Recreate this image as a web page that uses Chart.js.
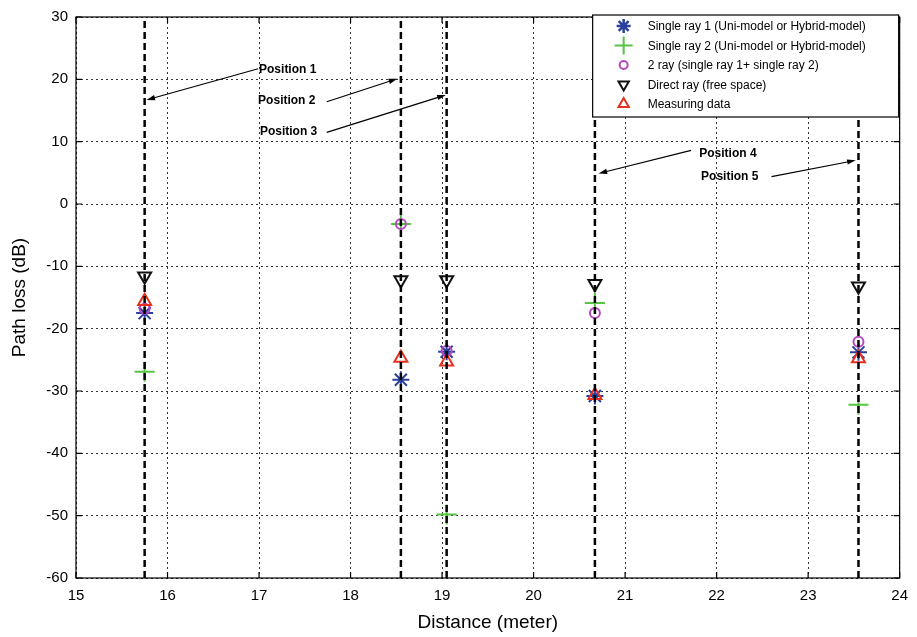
<!DOCTYPE html>
<html>
<head>
<meta charset="utf-8">
<script src="https://cdn.jsdelivr.net/npm/chart.js@4.4.0/dist/chart.umd.min.js"></script>
<style>
	html, body { margin: 0; padding: 0; background: #fff; }
	#wrap { width: 917px; height: 637px; position: relative; }
</style>
</head>
<body>
<div id="wrap"><canvas id="pathLossChart"></canvas></div>
<script>
// receiver positions (meter)
const positionX = [15.75, 18.55, 19.05, 20.67, 23.55];
// path loss (dB) at each position
const singleRay1 = [-17.5, -28.2, -23.7, -30.8, -23.8];
const singleRay2 = [-26.9, -3.2, -49.8, -15.9, -32.2];
const twoRay = [-16.8, -3.2, -23.6, -17.5, -22.1];
const directRay = [-11.6, -12.2, -12.2, -12.8, -13.2];
const measuringData = [-15.6, -24.7, -25.3, -30.7, -24.8];

const xTicks = [15, 16, 17, 18, 19, 20, 21, 22, 23, 24];
const yTicks = [-60, -50, -40, -30, -20, -10, 0, 10, 20, 30];

const seriesNames = [
	"Single ray 1 (Uni-model or Hybrid-model)",
	"Single ray 2 (Uni-model or Hybrid-model)",
	"2 ray (single ray 1+ single ray 2)",
	"Direct ray (free space)",
	"Measuring data",
];

// annotation labels: text anchor and arrow from -> tip, in data units
const positionLabels = ["Position 1", "Position 2", "Position 3", "Position 4", "Position 5"];
const labelAt = [[17.0, 21.5], [16.99, 16.6], [17.01, 11.6], [21.81, 8.1], [21.83, 4.4]];
const arrowFrom = [[16.99, 21.7], [17.74, 16.4], [17.74, 11.5], [21.72, 8.6], [22.6, 4.4]];
const arrowTip = [[15.77, 16.7], [18.51, 20.1], [19.04, 17.5], [20.71, 4.9], [23.52, 7.0]];

const FONT = "'Liberation Sans', Arial, Helvetica, sans-serif";

const markerStyles = [
	{ pointStyle: "star", radius: 8.5, rotation: 0, color: "#2b3f9c", borderWidth: 2 },
	{ pointStyle: "cross", radius: 10, rotation: 0, color: "#55c441", borderWidth: 2 },
	{ pointStyle: "circle", radius: 5, rotation: 0, color: "#b548bd", borderWidth: 2 },
	{ pointStyle: "triangle", radius: 7.5, rotation: 180, color: "#111111", borderWidth: 2 },
	{ pointStyle: "triangle", radius: 7.5, rotation: 0, color: "#e5321f", borderWidth: 2 },
];
const seriesValues = [singleRay1, singleRay2, twoRay, directRay, measuringData];

const toPoints = (values) => positionX.map((x, i) => ({ x: x, y: values[i] }));

const markerSets = seriesValues.map((values, i) => {
	const m = markerStyles[i];
	return {
		label: seriesNames[i],
		data: toPoints(values),
		showLine: false,
		pointStyle: m.pointStyle,
		pointRadius: m.radius,
		pointRotation: m.rotation,
		pointBorderColor: m.color,
		pointBackgroundColor: "rgba(0,0,0,0)",
		pointBorderWidth: m.borderWidth,
		pointHoverRadius: m.radius,
		order: 6 - i,
	};
});

// thick dashed verticals through each position
const positionLines = positionX.map((x) => ({
	label: "",
	data: [{ x: x, y: -60 }, { x: x, y: 30 }],
	showLine: true,
	borderColor: "#000",
	borderWidth: 2.5,
	borderDash: [7, 4],
	pointRadius: 0,
	order: 0,
}));

function drawArrow(ctx, x1, y1, x2, y2) {
	const ang = Math.atan2(y2 - y1, x2 - x1);
	const head = 9;
	const wing = 0.3;
	ctx.beginPath();
	ctx.moveTo(x1, y1);
	ctx.lineTo(x2 - Math.cos(ang) * head * 0.8, y2 - Math.sin(ang) * head * 0.8);
	ctx.stroke();
	ctx.beginPath();
	ctx.moveTo(x2, y2);
	ctx.lineTo(x2 - head * Math.cos(ang - wing), y2 - head * Math.sin(ang - wing));
	ctx.lineTo(x2 - head * Math.cos(ang + wing), y2 - head * Math.sin(ang + wing));
	ctx.closePath();
	ctx.fill();
}

const framePlugin = {
	id: "frame",
	afterDatasetsDraw(chart) {
		const { ctx, chartArea: a, scales } = chart;
		const xs = scales.x;
		const ys = scales.y;
		ctx.save();
		// axes box with inward ticks
		ctx.strokeStyle = "#000";
		ctx.lineWidth = 1.2;
		ctx.setLineDash([]);
		ctx.strokeRect(a.left, a.top, a.right - a.left, a.bottom - a.top);
		ctx.beginPath();
		xTicks.forEach((t) => {
			const px = xs.getPixelForValue(t);
			ctx.moveTo(px, a.bottom);
			ctx.lineTo(px, a.bottom - 6);
			ctx.moveTo(px, a.top);
			ctx.lineTo(px, a.top + 6);
		});
		yTicks.forEach((t) => {
			const py = ys.getPixelForValue(t);
			ctx.moveTo(a.left, py);
			ctx.lineTo(a.left + 6, py);
			ctx.moveTo(a.right, py);
			ctx.lineTo(a.right - 6, py);
		});
		ctx.stroke();

		// position labels with arrows
		ctx.fillStyle = "#000";
		ctx.lineWidth = 1.2;
		ctx.font = "bold 12px " + FONT;
		ctx.textBaseline = "middle";
		ctx.textAlign = "left";
		positionLabels.forEach((txt, i) => {
			ctx.fillText(txt, xs.getPixelForValue(labelAt[i][0]), ys.getPixelForValue(labelAt[i][1]));
			drawArrow(
				ctx,
				xs.getPixelForValue(arrowFrom[i][0]),
				ys.getPixelForValue(arrowFrom[i][1]),
				xs.getPixelForValue(arrowTip[i][0]),
				ys.getPixelForValue(arrowTip[i][1]),
			);
		});

		// legend box in the top right corner
		const boxW = 306;
		const boxH = 102;
		const bx = a.right - boxW - 1;
		const by = a.top - 2;
		ctx.fillStyle = "#fff";
		ctx.fillRect(bx, by, boxW, boxH);
		ctx.strokeStyle = "#000";
		ctx.lineWidth = 1.2;
		ctx.strokeRect(bx, by, boxW, boxH);
		ctx.font = "12px " + FONT;
		const legendRadius = [7, 9, 4, 6, 6];
		seriesNames.forEach((name, i) => {
			const m = markerStyles[i];
			const rowY = by + 11 + i * 19.5;
			ctx.save();
			ctx.strokeStyle = m.color;
			ctx.fillStyle = "rgba(0,0,0,0)";
			ctx.lineWidth = m.borderWidth + (i === 0 ? 0.5 : 0);
			Chart.helpers.drawPoint(ctx, { pointStyle: m.pointStyle, radius: legendRadius[i], rotation: m.rotation, borderWidth: m.borderWidth }, bx + 31, rowY);
			ctx.restore();
			ctx.fillStyle = "#000";
			ctx.fillText(name, bx + 55, rowY + 1);
		});
		ctx.restore();
	},
};

new Chart(document.getElementById("pathLossChart"), {
	type: "scatter",
	data: { datasets: [...positionLines, ...markerSets] },
	options: {
		responsive: true,
		maintainAspectRatio: false,
		animation: false,
		layout: { padding: { top: 15, right: 16, left: 0, bottom: 0 } },
		plugins: {
			legend: { display: false },
			tooltip: { enabled: false },
		},
		scales: {
			x: {
				type: "linear",
				min: 15,
				max: 24,
				afterBuildTicks: (scale) => {
					scale.ticks = xTicks.map((v) => ({ value: v }));
				},
				afterFit: (scale) => {
					scale.height = 59;
				},
				grid: { color: "#000", lineWidth: 0.8, drawTicks: false },
				border: { display: false, dash: [2, 3] },
				ticks: { color: "#000", padding: 9, font: { family: FONT, size: 15 } },
				title: {
					display: true,
					text: "Distance (meter)",
					color: "#000",
					font: { family: FONT, size: 19 },
					padding: { top: 0, bottom: 3 },
				},
			},
			y: {
				type: "linear",
				min: -60,
				max: 30,
				afterBuildTicks: (scale) => {
					scale.ticks = yTicks.map((v) => ({ value: v }));
				},
				afterFit: (scale) => {
					scale.width = 76;
				},
				grid: { color: "#000", lineWidth: 0.8, drawTicks: false },
				border: { display: false, dash: [2, 3] },
				ticks: { color: "#000", padding: 8, font: { family: FONT, size: 15 } },
				title: {
					display: true,
					text: "Path loss (dB)",
					color: "#000",
					font: { family: FONT, size: 19 },
					padding: { top: 8, bottom: 0 },
				},
			},
		},
	},
	plugins: [framePlugin],
});
</script>
</body>
</html>
